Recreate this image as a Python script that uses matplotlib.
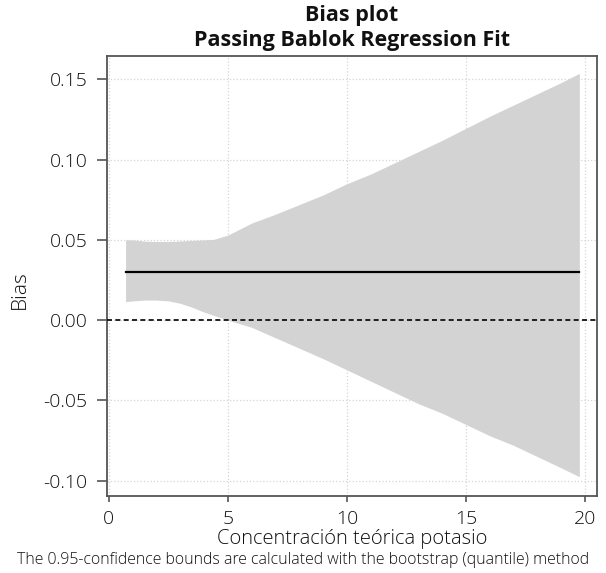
import numpy as np
import matplotlib
matplotlib.use("Agg")
from matplotlib import pyplot as plt

# concentration grid and bootstrap confidence band
conc = [0.7, 1.0, 1.5, 2.0, 2.5, 3.0, 3.5, 4.0, 4.4, 5.0, 6.0, 7.0, 8.0, 9.0,
        10.0, 11.0, 12.0, 13.0, 14.0, 15.0, 16.0, 17.0, 18.0, 19.0, 19.76]
upper = [0.050, 0.050, 0.0492, 0.049, 0.049, 0.0493, 0.0497, 0.050, 0.0503, 0.053,
         0.0605, 0.066, 0.072, 0.078, 0.085, 0.091, 0.098, 0.105, 0.112, 0.1195,
         0.127, 0.134, 0.141, 0.148, 0.1537]
lower = [0.0115, 0.012, 0.0125, 0.0125, 0.012, 0.0105, 0.008, 0.005, 0.003, 0.0,
         -0.0045, -0.011, -0.0175, -0.024, -0.031, -0.038, -0.045, -0.052, -0.058,
         -0.065, -0.072, -0.078, -0.085, -0.092, -0.0975]
bias = 0.03

xticks = [0, 5, 10, 15, 20]
yticks = [-0.10, -0.05, 0.00, 0.05, 0.10, 0.15]

plt.rcParams['font.family'] = ['Open Sans', 'DejaVu Sans']

fig = plt.figure(figsize=(6.06, 5.73), dpi=100)
ax = fig.add_axes([0.1766, 0.1344, 0.8081, 0.7684])

ax.fill_between(conc, lower, upper, color='#d3d3d3', linewidth=0, zorder=1)
ax.plot([conc[0], conc[-1]], [bias, bias], color='black', lw=1.6, zorder=3)
ax.axhline(0, color='black', lw=1.2, ls=(0, (3, 2)), zorder=3)

ax.set_xlim(-0.08, 20.49)
ax.set_ylim(-0.1095, 0.1647)
ax.set_xticks(xticks)
ax.set_yticks(yticks)
ax.set_yticklabels(['%.2f' % v for v in yticks])
ax.grid(True, color='#d5d5d5', ls=':', lw=0.9, zorder=0)
ax.set_axisbelow(True)

for s in ax.spines.values():
    s.set_color('#555555')
    s.set_linewidth(1.3)
ax.tick_params(axis='both', colors='#555555', labelcolor='#111111', labelsize=14)
ax.tick_params(axis='y', length=7, width=1.2, pad=7)
ax.tick_params(axis='x', length=4, width=1.2, pad=6)
for lab in ax.get_xticklabels() + ax.get_yticklabels():
    lab.set_fontweight('light')

ax.set_ylabel('Bias', fontsize=15, color='#111111', fontweight='light')
ax.yaxis.set_label_coords(-0.157, 0.468)
ax.set_xlabel('Concentración teórica potasio', fontsize=14.5, color='#111111',
              fontweight='light', labelpad=1)
ax.set_title('Bias plot\nPassing Bablok Regression Fit', fontsize=15.5,
             fontweight='bold', color='#111111', pad=7, linespacing=1.22)
fig.text(0.5, 0.023, 'The 0.95-confidence bounds are calculated with the bootstrap (quantile) method',
         ha='center', va='center', fontsize=11.4, color='#111111', fontweight='light')

fig.savefig('out.png', dpi=100)
